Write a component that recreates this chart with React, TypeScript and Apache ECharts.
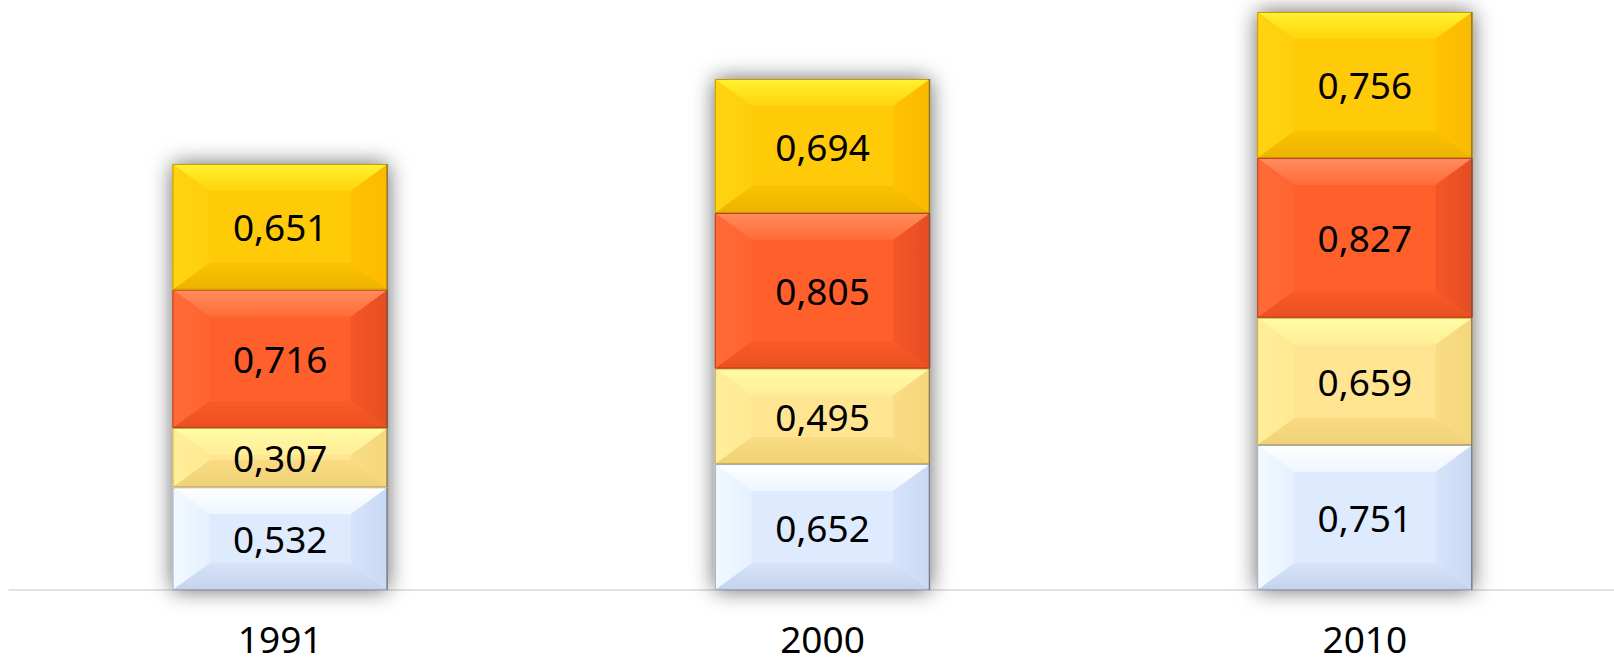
import React, { useEffect, useRef } from "react";
import * as echarts from "echarts";

const categories = ["1991", "2000", "2010"];
const blueValues = [0.532, 0.652, 0.751];
const paleYellowValues = [0.307, 0.495, 0.659];
const orangeValues = [0.716, 0.805, 0.827];
const goldValues = [0.651, 0.694, 0.756];

const FONT = "'Noto Sans', sans-serif";

type Layer = {
  name: string;
  values: number[];
  face: string;
  top: [string, string];
  bottom: [string, string];
  left: [string, string];
  right: [string, string];
  edge: string;
};

const layers: Layer[] = [
  {
    name: "blue", values: blueValues, face: "#DEEAFD",
    top: ["#FFFFFF", "#EEF6FF"], left: ["#F2F9FF", "#E6F1FF"], right: ["#D6E3FA", "#C9D8F3"], bottom: ["#D6E3FA", "#C4D2EE"],
    edge: "#9BA8BE",
  },
  {
    name: "paleYellow", values: paleYellowValues, face: "#FFE592",
    top: ["#FFFCA6", "#FFEE98"], left: ["#FFEE9A", "#FFE993"], right: ["#F9DC84", "#F4D67C"], bottom: ["#F8DB82", "#F0D276"],
    edge: "#C9AB55",
  },
  {
    name: "orange", values: orangeValues, face: "#FF5F2B",
    top: ["#FF8D5E", "#FF6C38"], left: ["#FF6B37", "#FF6430"], right: ["#F45628", "#E44E22"], bottom: ["#FA5A26", "#EA5020"],
    edge: "#B8421C",
  },
  {
    name: "gold", values: goldValues, face: "#FFCA08",
    top: ["#FFF232", "#FFD40C"], left: ["#FFD412", "#FFCE0A"], right: ["#FFC202", "#FBB900"], bottom: ["#FAC300", "#EDB200"],
    edge: "#C49A00",
  },
];

const fmt = (v: number) => v.toFixed(3).replace(".", ",");

const grad = (c: [string, string], dir: "v" | "vr" | "h" | "hr") => {
  const g: any = { type: "linear", x: 0, y: 0, x2: 0, y2: 0, colorStops: [{ offset: 0, color: c[0] }, { offset: 1, color: c[1] }] };
  if (dir === "v") { g.y2 = 1; }
  if (dir === "vr") { g.y = 1; g.y2 = 0; }
  if (dir === "h") { g.x2 = 1; }
  if (dir === "hr") { g.x = 1; g.x2 = 0; }
  return g;
};

export default function App() {
  const ref = useRef<HTMLDivElement>(null);

  useEffect(() => {
    if (!ref.current) return;
    const chart = echarts.init(ref.current, undefined, { renderer: "svg" });

    const totals = categories.map((_, i) => layers.reduce((s, l) => s + l.values[i], 0));
    const BAR = 0.397;

    const shadowSeries: any = {
      type: "custom",
      name: "shadow",
      z: 1,
      silent: true,
      encode: { x: 0, y: 1 },
      data: totals.map((t, i) => [i, t]),
      renderItem: (params: any, api: any) => {
        const i = api.value(0);
        const pb = api.coord([i, 0]);
        const pt = api.coord([i, api.value(1)]);
        const w = api.size([1, 0])[0] * BAR;
        return {
          type: "rect",
          shape: { x: pb[0] - w / 2, y: pt[1], width: w, height: pb[1] - pt[1] },
          style: { fill: "#888", shadowBlur: 22, shadowColor: "rgba(0,0,0,0.6)", shadowOffsetX: 0, shadowOffsetY: 0 },
        };
      },
    };

    const layerSeries = layers.map((layer, li) => {
      const data = categories.map((_, i) => {
        let base = 0;
        for (let k = 0; k < li; k++) base += layers[k].values[i];
        return [i, base, base + layer.values[i], layer.values[i]];
      });
      return {
        type: "custom",
        name: layer.name,
        z: 2,
        encode: { x: 0, y: [1, 2] },
        data,
        renderItem: (params: any, api: any) => {
          const i = api.value(0);
          const pb = api.coord([i, api.value(1)]);
          const pt = api.coord([i, api.value(2)]);
          const w = api.size([1, 0])[0] * BAR;
          const x = pb[0] - w / 2;
          const y = pt[1];
          const h = pb[1] - pt[1];
          const bx = Math.min(37, w / 2);
          const by = Math.min(27, h / 2);
          const poly = (pts: number[][], fill: any) => ({
            type: "polygon",
            shape: { points: pts },
            style: { fill },
          });
          return {
            type: "group",
            children: [
              { type: "rect", shape: { x, y, width: w, height: h }, style: { fill: layer.face } },
              poly([[x, y], [x + w, y], [x + w - bx, y + by], [x + bx, y + by]], grad(layer.top, "v")),
              poly([[x, y + h], [x + w, y + h], [x + w - bx, y + h - by], [x + bx, y + h - by]], grad(layer.bottom, "v")),
              poly([[x, y], [x + bx, y + by], [x + bx, y + h - by], [x, y + h]], grad(layer.left, "h")),
              poly([[x + w, y], [x + w - bx, y + by], [x + w - bx, y + h - by], [x + w, y + h]], grad(layer.right, "h")),
              {
                type: "rect",
                shape: { x: x + 0.5, y: y + 0.5, width: w - 1, height: h - 1 },
                style: { fill: "none", stroke: layer.edge, lineWidth: 1 },
              },
              {
                type: "line",
                shape: { x1: x + w - 0.75, y1: y, x2: x + w - 0.75, y2: y + h },
                style: { stroke: "rgba(90,90,90,0.6)", lineWidth: 1.5 },
              },
              {
                type: "text",
                x: x + w / 2,
                y: y + h / 2,
                style: {
                  text: fmt(api.value(3)),
                  fill: "#000",
                  fontSize: 37,
                  fontFamily: FONT,
                  align: "center",
                  verticalAlign: "middle",
                },
              },
            ],
          };
        },
      };
    });

    chart.setOption({
      animation: false,
      grid: { left: 9, top: 0, width: 1627, height: 590 },
      xAxis: {
        type: "category",
        data: categories,
        axisLine: { show: true, lineStyle: { color: "#D9D9D9", width: 1.5 } },
        axisTick: { show: false },
        axisLabel: { fontSize: 37, color: "#000", fontFamily: FONT, margin: 30 },
      },
      yAxis: {
        type: "value",
        min: 0,
        max: 3.055,
        show: false,
        splitLine: { show: false },
      },
      series: [shadowSeries, ...layerSeries],
    });

    return () => chart.dispose();
  }, []);

  return (
    <div
      ref={ref}
      style={{ position: "fixed", left: 0, top: 0, width: 1640, height: 663, background: "#fff" }}
    />
  );
}
